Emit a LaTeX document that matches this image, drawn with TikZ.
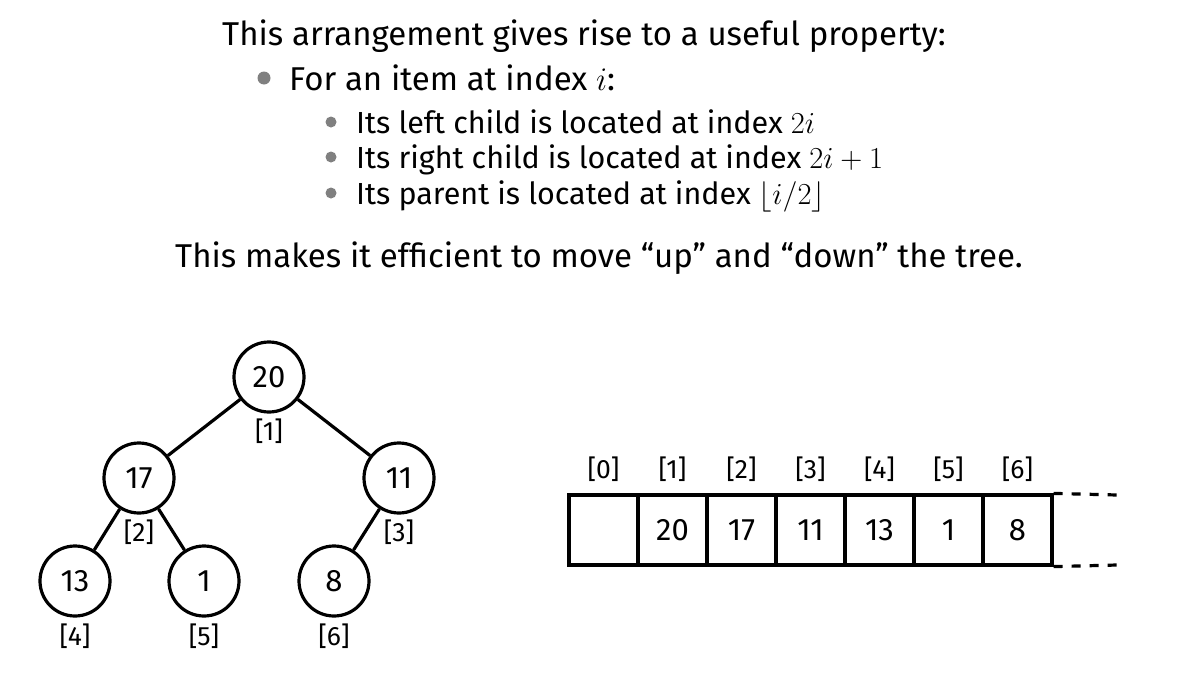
\RequirePackage{fix-cm}
\documentclass[tikz,border=0pt]{standalone}
\usepackage[no-math]{fontspec}
\setmainfont{Fira Sans}
\begin{document}
\begin{tikzpicture}[x=1pt,y=-1pt,
  txt/.style={anchor=base west,inner sep=0pt,font=\fontsize{33}{40}\selectfont},
  subtxt/.style={anchor=base west,inner sep=0pt,font=\fontsize{30.5}{36}\selectfont},
  bul/.style={circle,fill=black!50,inner sep=0pt,minimum size=13},
  subbul/.style={circle,fill=black!50,inner sep=0pt,minimum size=11},
  tnode/.style={circle,draw,line width=3.2,minimum size=70,inner sep=0pt,font=\fontsize{31}{36}\selectfont},
  idx/.style={inner sep=0pt,font=\fontsize{26.5}{30}\selectfont},
  cell/.style={rectangle,draw,line width=3.2,minimum width=69,minimum height=70,inner sep=0pt,font=\fontsize{31}{36}\selectfont},
  edge/.style={line width=3.2},
  more/.style={line width=3.2,dash pattern=on 9 off 9}
  ]
\useasboundingbox (0,0) rectangle (1187,683);
% text
\node[txt] (t1) at (222,45) {This arrangement gives rise to a useful property:};
\node[bul] (b1) at (264,78) {};
\node[txt] (t2) at (289,90) {For an item at index $i$:};
\node[subbul] (b2) at (331,122) {};
\node[subtxt] (t3) at (356,133) {Its left child is located at index $2i$};
\node[subbul] (b3) at (331,157) {};
\node[subtxt] (t4) at (356,168.5) {Its right child is located at index $2i+1$};
\node[subbul] (b4) at (331,193) {};
\node[subtxt] (t5) at (356,204) {Its parent is located at index $\lfloor i/2\rfloor$};
\node[txt] (t6) at (175,267) {This makes it efficient to move “up” and “down” the tree.};
% tree
\node[tnode] (n1) at (269,377) {20};
\node[tnode] (n2) at (139,478) {17};
\node[tnode] (n3) at (399,478) {11};
\node[tnode] (n4) at (75,581) {13};
\node[tnode] (n5) at (204,581) {1};
\node[tnode] (n6) at (334,581) {8};
\draw[edge] (n1) -- (n2);
\draw[edge] (n1) -- (n3);
\draw[edge] (n2) -- (n4);
\draw[edge] (n2) -- (n5);
\draw[edge] (n3) -- (n6);
\node[idx] (l1) at (269,431) {[1]};
\node[idx] (l2) at (139,532) {[2]};
\node[idx] (l3) at (399,532) {[3]};
\node[idx] (l4) at (75,636) {[4]};
\node[idx] (l5) at (204,636) {[5]};
\node[idx] (l6) at (334,636) {[6]};
% array
\foreach \i/\v in {0/{},1/20,2/17,3/11,4/13,5/1,6/8}{
  \node[cell] (c\i) at ({603.5+69*\i},530) {\v};
  \node[idx] (a\i) at ({603.5+69*\i},469) {[\i]};
}
\coordinate (e1) at (1117,495);
\coordinate (e2) at (1117,565);
\draw[more] (c6.north east) -- (e1);
\draw[more] (c6.south east) -- (e2);
\end{tikzpicture}
\end{document}
